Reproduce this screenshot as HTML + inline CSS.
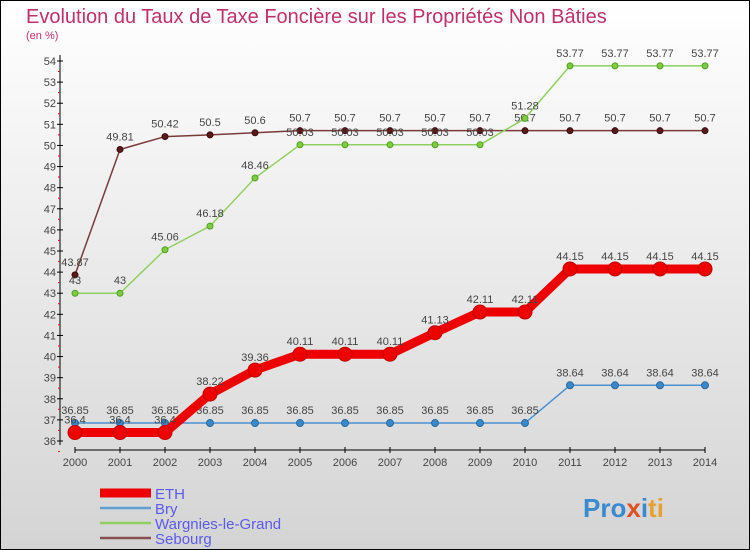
<!DOCTYPE html>
<html><head><meta charset="utf-8"><style>
body{margin:0}
svg{display:block;font-family:"Liberation Sans",sans-serif}
</style></head><body>
<svg width="750" height="550" viewBox="0 0 750 550">
<defs><linearGradient id="bg" x1="0" y1="0" x2="0" y2="1"><stop offset="0" stop-color="#ffffff"/><stop offset="1" stop-color="#d4d4d4"/></linearGradient></defs>
<rect x="0.5" y="0.5" width="749" height="549" fill="url(#bg)" stroke="#000"/>
<text x="26" y="23" font-size="20" fill="#c0306a">Evolution du Taux de Taxe Foncière sur les Propriétés Non Bâties</text>
<text x="26" y="39" font-size="11" fill="#c0306a">(en %)</text>
<g id="axes"></g>
<g id="series"></g>
<g id="legend"></g>
<text x="583" y="517" font-size="26" font-weight="bold" fill="#e8a030"><tspan fill="#3a8ad0">Pro</tspan><tspan fill="#e05020">x</tspan><tspan fill="#3a8ad0">i</tspan><tspan fill="#e8a030">ti</tspan></text>
</svg>
<script>
const years=[2000,2001,2002,2003,2004,2005,2006,2007,2008,2009,2010,2011,2012,2013,2014];
const yTicks=[36,37,38,39,40,41,42,43,44,45,46,47,48,49,50,51,52,53,54];
const eth=[36.4,36.4,36.4,38.22,39.36,40.11,40.11,40.11,41.13,42.11,42.11,44.15,44.15,44.15,44.15];
const bry=[36.85,36.85,36.85,36.85,36.85,36.85,36.85,36.85,36.85,36.85,36.85,38.64,38.64,38.64,38.64];
const wargnies=[43,43,45.06,46.18,48.46,50.03,50.03,50.03,50.03,50.03,51.28,53.77,53.77,53.77,53.77];
const sebourg=[43.87,49.81,50.42,50.5,50.6,50.7,50.7,50.7,50.7,50.7,50.7,50.7,50.7,50.7,50.7];
const NS="http://www.w3.org/2000/svg";
const xs=i=>75+i*45;
const ys=v=>441-(v-36)*(380/18);
function mk(p,t,a){const e=document.createElementNS(NS,t);for(const k in a)e.setAttribute(k,a[k]);p.appendChild(e);return e;}
const ax=document.getElementById('axes');
let l=mk(ax,'line',{x1:60,y1:55,x2:60,y2:445,stroke:'#000'});


l=mk(ax,'line',{x1:75,y1:450,x2:705,y2:450,stroke:'#000'});


yTicks.forEach(v=>{const y=ys(v);
mk(ax,'line',{x1:57,y1:y,x2:63,y2:y,stroke:'#000'});
mk(ax,'line',{x1:58,y1:y+10.5,x2:60,y2:y+10.5,stroke:'#f00'});
const t=mk(ax,'text',{x:56,y:y+4,'font-size':11,'text-anchor':'end',fill:'#444'});t.textContent=v;

});
years.forEach((yr,i)=>{const x=xs(i);
mk(ax,'line',{x1:x,y1:447,x2:x,y2:453,stroke:'#000'});
const t=mk(ax,'text',{x:x,y:466,'font-size':11,'text-anchor':'middle',fill:'#444'});t.textContent=yr;

});
const sg=document.getElementById('series');
function draw(data,name,color,w,r,fmt){
const g=mk(sg,'g',{});


const p=mk(g,'polyline',{points:data.map((v,i)=>xs(i)+','+ys(v)).join(' '),fill:'none',stroke:color,'stroke-width':w,'stroke-linejoin':'round'});


data.forEach((v,i)=>{const c=mk(g,'circle',{cx:xs(i),cy:ys(v),r:r,fill:fmt.pt,stroke:fmt.ps,'stroke-width':1});


const t=mk(g,'text',{x:xs(i),y:ys(v)-9,'font-size':11,'text-anchor':'middle',fill:'#444'});t.textContent=v;

});}
draw(sebourg,'sebourg','#7a3a3a',1.5,3,{pt:'#5a1a1a',ps:'#3a0a0a'});
draw(wargnies,'wargnies','#90d060',1.5,3,{pt:'#80cc40',ps:'#50a020'});
draw(bry,'bry','#4a90d0',1.5,3.5,{pt:'#3a88c8',ps:'#2a6aa0'});
draw(eth,'eth','#ee0000',9,7,{pt:'#ee0000',ps:'#c00000'});
const lg=document.getElementById('legend');
[['ETH','#ee0000',9],['Bry','#60a0d0',2.5],['Wargnies-le-Grand','#90d060',2.5],['Sebourg','#8a5050',2.5]].forEach((d,i)=>{
const y=493+i*15;
const ln=mk(lg,'line',{x1:100,y1:y,x2:151,y2:y,stroke:d[1],'stroke-width':d[2]});


const t=mk(lg,'text',{x:155,y:y+6,'font-size':15,fill:'#5a5aee'});t.textContent=d[0];

});
</script>
</body></html>
